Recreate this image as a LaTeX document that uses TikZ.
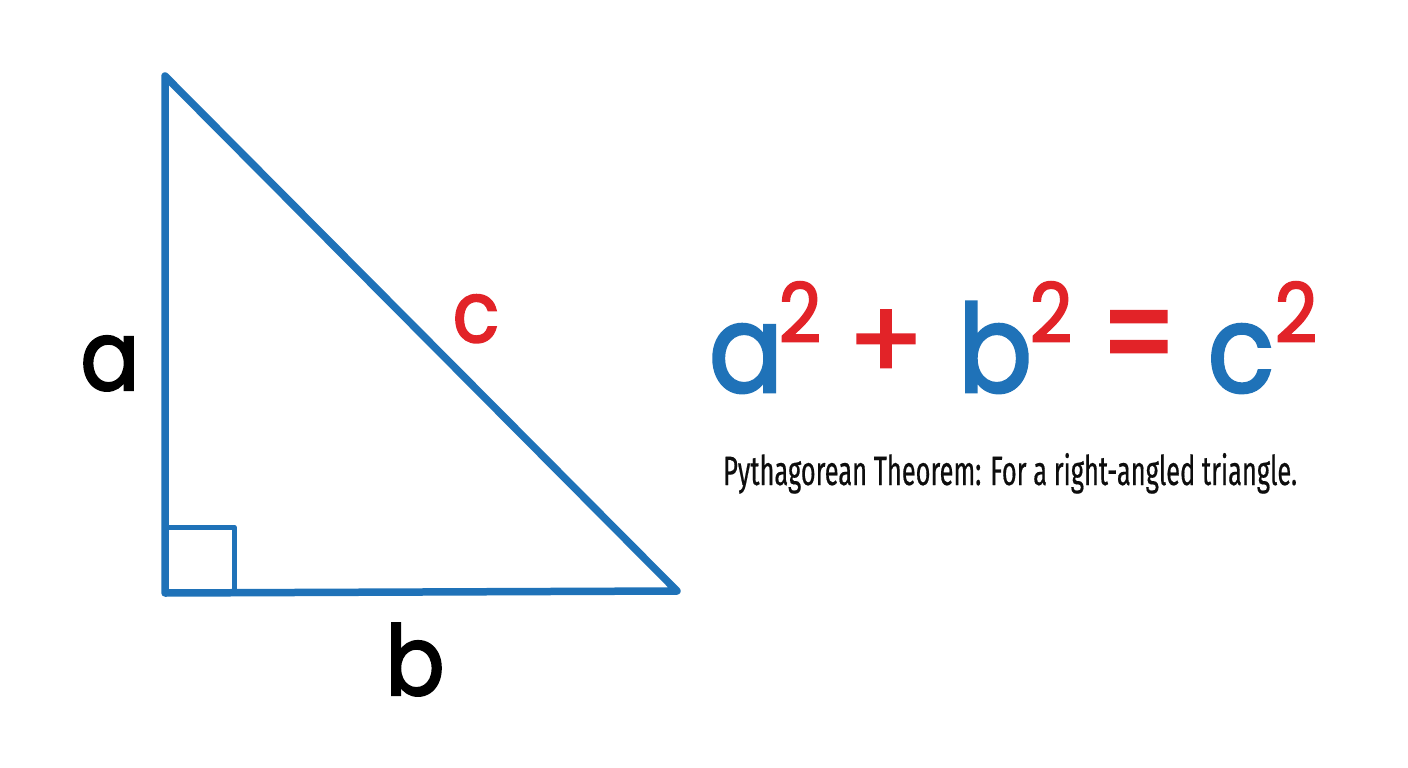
\documentclass[tikz,border=0pt]{standalone}
\usepackage{fontspec}
\usepackage{graphicx}
\newfontfamily\eqfont[FakeStretch=0.9,FakeBold=2.2]{Poppins}
\newfontfamily\opfont[FakeBold=2]{Poppins}
\newfontfamily\capfont[FakeStretch=0.62,FakeBold=0.4]{Fira Sans}
\definecolor{triblue}{RGB}{31,114,184}
\definecolor{eqred}{RGB}{226,35,40}
\begin{document}
\begin{tikzpicture}[x=1pt,y=-1pt,
  tri/.style={draw=triblue,line width=7.5pt,line join=round,line cap=round},
  sq/.style={draw=triblue,line width=5pt,line join=round},
  lbl/.style={inner sep=0pt,anchor=base,font=\eqfont\fontsize{97}{97}\selectfont},
  eqbig/.style={inner sep=0pt,anchor=base,font=\eqfont\fontsize{122}{122}\selectfont,text=triblue},
  eqsup/.style={inner sep=0pt,anchor=base,font=\eqfont\fontsize{82}{82}\selectfont,text=eqred},
  eqop/.style={inner sep=0pt,anchor=center,font=\opfont\fontsize{112}{112}\selectfont,text=eqred},
  captxt/.style={inner sep=0pt,anchor=base west,font=\capfont\fontsize{41}{41}\selectfont,text=black!95}]
\fill[white] (0,0) rectangle (1408,768);
\useasboundingbox (0,0) rectangle (1408,768);
\coordinate (A) at (165,76);
\coordinate (B) at (165,593);
\coordinate (C) at (677,591);
\coordinate (S1) at (165,527);
\coordinate (S2) at (234,527);
\coordinate (S3) at (234,593);
\draw[tri] (A) -- (B) -- (C) -- cycle;
\draw[sq] (S1) -- (S2) -- (S3);
\node[lbl] (la) at (110,390) {a};
\node[lbl,text=eqred,font=\eqfont\fontsize{85}{85}\selectfont] (lc) at (476,342) {c};
\node[lbl] (lb) at (415,695) {b};
\node[eqbig] (ea) at (746,392) {a};
\node[eqsup] (e2a) at (800,342) {2};
\node[eqop] (plus) at (886,345) {+};
\node[eqbig] (eb) at (995,392) {b};
\node[eqsup] (e2b) at (1051,342) {2};
\node[eqop] (eq) at (1139,347) {\scalebox{0.95}[1.25]{=}};
\node[eqbig] (ec) at (1241,392) {c};
\node[eqsup] (e2c) at (1296,342) {2};
\node[captxt] (caption) at (723,485) {Pythagorean Theorem: For a right-angled triangle.};
\end{tikzpicture}
\end{document}
